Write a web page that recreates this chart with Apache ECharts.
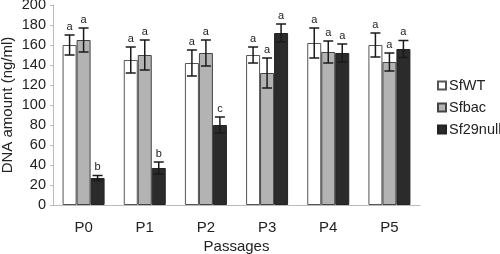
<!DOCTYPE html>
<html>
<head>
<meta charset="utf-8">
<script src="https://cdn.jsdelivr.net/npm/echarts@6/dist/echarts.min.js"></script>
<style>
  html, body { margin: 0; padding: 0; background: #fff; }
  #chart { width: 500px; height: 254px; }
</style>
</head>
<body>
<div id="chart"></div>
<script>
// Data
const passages = ["P0", "P1", "P2", "P3", "P4", "P5"];
const seriesNames = ["SfWT", "Sfbac", "Sf29null"];
const sfwt = [160, 145, 142, 150, 162, 160];
const sfwtErr = [10, 13, 13, 8, 15, 12];
const sfbac = [165, 150, 152, 132, 153, 143];
const sfbacErr = [12, 15, 13, 15, 11, 9];
const sf29null = [27, 37, 80, 172, 152, 156];
const sf29nullErr = [2.5, 6, 8, 9, 9, 8.5];
const sfwtLetters = ["a", "a", "a", "a", "a", "a"];
const sfbacLetters = ["a", "a", "a", "a", "a", "a"];
const sf29nullLetters = ["b", "b", "c", "a", "a", "a"];
const yTicks = [0, 20, 40, 60, 80, 100, 120, 140, 160, 180, 200];

const barW = 14;
const fontFamily = "'Liberation Sans', Arial, sans-serif";

const chart = echarts.init(document.getElementById("chart"));

// error bar + significance letter, shifted to sit on its bar
function errorSeries(name, values, errs, letters, offset) {
    return {
        type: "custom",
        name: name + "_err",
        z: 5,
        data: values.map((v, i) => [i, v, errs[i], letters[i]]),
        encode: { x: 0, y: 1 },
        renderItem: function (params, api) {
            const top = api.coord([api.value(0), api.value(1) + api.value(2)]);
            const bot = api.coord([api.value(0), api.value(1) - api.value(2)]);
            const x = top[0] + offset;
            const cap = 5;
            const style = { stroke: "#1a1a1a", lineWidth: 1.5 };
            return {
                type: "group",
                children: [
                    { type: "line", shape: { x1: x, y1: top[1], x2: x, y2: bot[1] }, style: style },
                    { type: "line", shape: { x1: x - cap, y1: top[1], x2: x + cap, y2: top[1] }, style: style },
                    { type: "line", shape: { x1: x - cap, y1: bot[1], x2: x + cap, y2: bot[1] }, style: style },
                    {
                        type: "text",
                        style: {
                            x: x, y: top[1] - 3,
                            text: api.value(3),
                            align: "center", verticalAlign: "bottom",
                            fontSize: 11, fontFamily: fontFamily, fill: "#222"
                        }
                    }
                ]
            };
        }
    };
}

const option = {
    animation: false,
    grid: { left: 53, right: 80, top: 5, bottom: 49, outerBoundsMode: "none" },
    legend: {
        data: seriesNames,
        orient: "vertical",
        left: 432,
        top: 73,
        icon: "rect",
        itemWidth: 8,
        itemHeight: 8,
        itemGap: 7,
        textStyle: { fontSize: 14.5, fontFamily: fontFamily, color: "#222", padding: [0, 0, 0, -2] }
    },
    xAxis: {
        type: "category",
        data: passages,
        name: "Passages",
        nameLocation: "middle",
        nameGap: 34,
        nameMoveOverlap: false,
        nameTextStyle: { fontSize: 15, fontFamily: fontFamily, color: "#222" },
        axisLine: { lineStyle: { color: "#bbb" } },
        axisTick: { length: 4, lineStyle: { color: "#bbb" } },
        axisLabel: { fontSize: 15, fontFamily: fontFamily, color: "#222", margin: 15 }
    },
    yAxis: {
        type: "value",
        min: 0,
        max: 200,
        interval: 20,
        name: "DNA amount (ng/ml)",
        nameLocation: "middle",
        nameGap: 38,
        nameMoveOverlap: false,
        nameTextStyle: { fontSize: 15, fontFamily: fontFamily, color: "#222" },
        axisLine: { show: true, lineStyle: { color: "#bbb" } },
        axisTick: { show: true, length: 3, lineStyle: { color: "#bbb" } },
        splitLine: { show: false },
        axisLabel: {
            fontSize: 14.5, fontFamily: fontFamily, color: "#222", margin: 7,
            formatter: v => yTicks.includes(v) ? String(v) : ""
        }
    },
    series: [
        {
            name: "SfWT", type: "bar", data: sfwt, barWidth: barW, barGap: "0%",
            itemStyle: { color: "#ffffff", borderColor: "#555", borderWidth: 1 }
        },
        {
            name: "Sfbac", type: "bar", data: sfbac, barWidth: barW, barGap: "0%",
            itemStyle: { color: "#b3b3b3", borderColor: "#444", borderWidth: 1 }
        },
        {
            name: "Sf29null", type: "bar", data: sf29null, barWidth: barW, barGap: "0%",
            itemStyle: { color: "#2b2b2b", borderColor: "#222", borderWidth: 1 }
        },
        errorSeries("SfWT", sfwt, sfwtErr, sfwtLetters, -barW),
        errorSeries("Sfbac", sfbac, sfbacErr, sfbacLetters, 0),
        errorSeries("Sf29null", sf29null, sf29nullErr, sf29nullLetters, barW)
    ]
};

chart.setOption(option);
</script>
</body>
</html>
